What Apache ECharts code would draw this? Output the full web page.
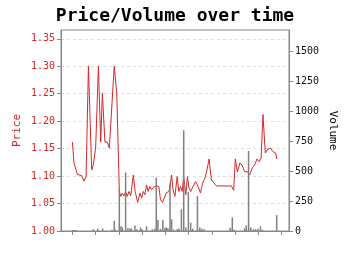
<!DOCTYPE html>
<html>
<head>
<meta charset="utf-8">
<script src="https://cdn.jsdelivr.net/npm/echarts@6/dist/echarts.min.js"></script>
<style>html,body{margin:0;padding:0;background:#fff}#c{width:350px;height:255px}</style>
</head>
<body>
<div id="c"></div>
<script>
// time in days from start
var priceT = [0.0,0.7,1.6,2.1,4.0,5.0,5.9,6.9,8.3,9.0,10.0,11.2,12.2,12.9,14.0,15.0,15.9,18.0,19.1,20.2,20.8,21.5,22.2,22.9,23.6,24.3,25.1,26.2,27.0,28.1,29.1,29.8,30.5,31.2,31.9,32.6,33.3,34.1,35.1,36.2,37.2,37.9,38.8,39.5,40.5,41.6,42.7,43.3,44.1,45.1,45.8,46.5,47.2,47.9,48.8,49.5,50.2,50.9,51.9,53.0,54.1,55.1,56.0,57.0,57.9,58.8,59.8,60.5,62.0,68.4,69.4,70.1,71.0,72.1,73.0,74.1,75.3,76.3,77.4,78.4,79.4,80.3,81.2,82.0,83.0,84.1,85.2,86.2,87.4,88.0];
var priceV = [1.162,1.124,1.111,1.103,1.101,1.091,1.099,1.300,1.111,1.120,1.151,1.300,1.162,1.251,1.162,1.162,1.151,1.300,1.250,1.072,1.063,1.069,1.064,1.071,1.063,1.072,1.064,1.102,1.072,1.052,1.069,1.060,1.072,1.066,1.084,1.072,1.081,1.075,1.081,1.082,1.081,1.057,1.052,1.060,1.070,1.072,1.102,1.075,1.063,1.099,1.072,1.081,1.072,1.099,1.066,1.099,1.078,1.072,1.081,1.090,1.081,1.069,1.087,1.096,1.111,1.131,1.093,1.090,1.082,1.082,1.074,1.131,1.108,1.124,1.120,1.108,1.108,1.102,1.115,1.120,1.131,1.126,1.133,1.212,1.142,1.149,1.151,1.145,1.142,1.131];
var volT = [0.1,0.7,1.6,9.0,10.9,13.0,17.0,18.0,18.5,20.2,20.9,21.5,22.9,23.9,24.8,25.4,26.9,27.8,29.3,29.9,31.9,34.4,35.5,36.1,36.8,37.9,38.9,39.8,40.4,41.1,42.0,42.7,43.6,45.1,45.8,46.9,47.9,48.8,49.9,50.9,51.8,53.8,54.8,55.7,56.7,67.9,68.8,69.6,74.1,74.8,75.8,76.7,77.8,78.8,79.8,80.9,81.8,87.9];
var volV = [8,8,8,15,20,22,10,85,10,355,40,30,490,25,20,22,45,15,30,15,40,14,18,447,92,18,92,25,30,22,400,97,12,15,20,182,842,30,327,69,18,292,30,18,15,28,114,10,22,48,669,30,15,15,18,40,10,133];
var xTicks = [0,10,20,30,40,50,60,70,80,90];
var priceTicks = [1.00,1.05,1.10,1.15,1.20,1.25,1.30,1.35];
var volTicks = [0,250,500,750,1000,1250,1500];

var FONT = 'DejaVu Sans Mono';
var RED = '#d62728';
var AX = '#888888';

var chart = echarts.init(document.getElementById('c'), null, {renderer:'canvas'});
chart.setOption({
  animation: false,
  title: {
    text: 'Price/Volume over time', left: 'center', top: 2,
    textStyle: {fontFamily: FONT, fontWeight: 'bold', fontSize: 18, color: '#000'}
  },
  grid: {left: 61, right: 61, top: 30, bottom: 24, show: true, borderColor: AX, borderWidth: 1, backgroundColor: 'transparent'},
  xAxis: {
    type: 'value', min: -4.9, max: 93.2,
    axisLine: {show: true, onZero: false, lineStyle: {color: AX}},
    axisTick: {show: true, length: 4, customValues: xTicks, lineStyle: {color: AX}},
    axisLabel: {show: false},
    splitLine: {show: false}
  },
  yAxis: [{
    type: 'value', position: 'left', min: 1.0, max: 1.366,
    name: 'Price', nameLocation: 'middle', nameGap: 38, nameRotate: 90, nameMoveOverlap: false,
    nameTextStyle: {color: RED, fontFamily: FONT, fontSize: 11},
    axisLine: {show: true, onZero: false, lineStyle: {color: AX}},
    axisTick: {show: true, length: 4, customValues: priceTicks, lineStyle: {color: AX}},
    axisLabel: {customValues: priceTicks, color: RED, fontFamily: FONT, fontSize: 10, margin: 6,
      formatter: function(v){ return v.toFixed(2); }},
    splitLine: {show: true, lineStyle: {color: '#dddddd', type: [3, 3], width: 1}}
  }, {
    type: 'value', position: 'right', min: 0, max: 1680,
    name: 'Volume', nameLocation: 'middle', nameGap: 38, nameRotate: -90, nameMoveOverlap: false,
    nameTextStyle: {color: '#000', fontFamily: FONT, fontSize: 11},
    axisLine: {show: true, onZero: false, lineStyle: {color: AX}},
    axisTick: {show: true, length: 4, customValues: volTicks, lineStyle: {color: AX}},
    axisLabel: {customValues: volTicks, color: '#111', fontFamily: FONT, fontSize: 10, margin: 6,
      formatter: function(v){ return String(v); }},
    splitLine: {show: false}
  }],
  series: [{
    type: 'line', yAxisIndex: 0, z: 2,
    data: priceT.map(function(t, i){ return [t, priceV[i]]; }),
    showSymbol: false, symbol: 'none',
    lineStyle: {color: RED, width: 1}
  }, {
    type: 'bar', yAxisIndex: 1, z: 3,
    data: volT.map(function(t, i){ return [t, volV[i]]; }),
    barWidth: 1.5,
    itemStyle: {color: '#808080'}
  }]
});
</script>
</body>
</html>
